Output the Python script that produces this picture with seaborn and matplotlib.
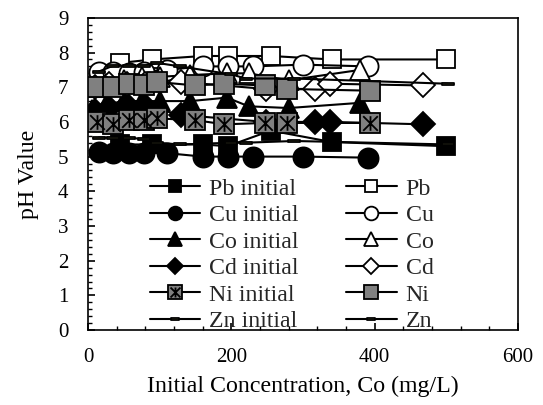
import numpy as np
import matplotlib
matplotlib.use('Agg')
import matplotlib.pyplot as plt
import seaborn as sns
from matplotlib.path import Path
from matplotlib.ticker import MultipleLocator
from matplotlib.legend_handler import HandlerTuple

# initial concentration (mg/L) for each metal
PB_X = [45, 90, 160, 195, 255, 340, 500]
CU_X = [15, 35, 57, 78, 110, 160, 195, 230, 300, 390]
CO_X = [5, 25, 50, 75, 100, 143, 194, 224, 280, 380]
CD_X = [10, 30, 55, 80, 130, 248, 317, 338, 468]
NI_X = [13, 35, 57, 78, 97, 150, 190, 247, 278, 394]
ZN_X = [15, 35, 57, 78, 97, 128, 200, 220, 288, 502]

# pH before (initial) and after sorption
PB_INIT = [5.35, 5.35, 5.35, 5.3, 5.75, 5.42, 5.3]
PB_FINAL = [7.7, 7.8, 7.9, 7.9, 7.9, 7.8, 7.8]
CU_INIT = [5.12, 5.1, 5.1, 5.1, 5.1, 5.0, 5.0, 5.0, 5.0, 4.97]
CU_FINAL = [7.45, 7.45, 7.4, 7.45, 7.5, 7.6, 7.6, 7.6, 7.65, 7.6]
CO_INIT = [6.35, 6.5, 6.6, 6.6, 6.6, 6.6, 6.7, 6.45, 6.4, 6.55]
CO_FINAL = [7.0, 7.1, 7.2, 7.3, 7.3, 7.35, 7.4, 7.4, 7.2, 7.5]
CD_INIT = [6.3, 6.4, 6.5, 6.45, 6.2, 6.0, 6.0, 6.0, 5.93]
CD_FINAL = [7.0, 7.1, 7.1, 7.1, 7.15, 6.95, 6.95, 7.1, 7.05]
NI_INIT = [6.0, 5.95, 6.05, 6.05, 6.1, 6.05, 5.93, 5.97, 5.97, 5.97]
NI_FINAL = [7.0, 7.0, 7.1, 7.05, 7.15, 7.05, 7.1, 7.05, 6.95, 6.9]
ZN_INIT = [5.55, 5.55, 5.55, 5.5, 5.4, 5.35, 5.4, 5.4, 5.45, 5.35]
ZN_FINAL = [7.45, 7.62, 7.62, 7.62, 7.7, 7.6, 7.37, 7.25, 7.25, 7.1]

X_TICKS = [0, 200, 400, 600]
Y_TICKS = list(range(0, 10))

GREY = '#808080'
KHAKI = '#A39B66'
TICK_FS = 15
LABEL_FS = 17.2

# flat bar marker used for Zn
BAR = Path([(-1, -0.18), (1, -0.18), (1, 0.18), (-1, 0.18), (-1, -0.18)],
           [Path.MOVETO, Path.LINETO, Path.LINETO, Path.LINETO, Path.CLOSEPOLY])
# excel style star: X plus vertical stroke
STAR = Path([(-1, -1), (1, 1), (-1, 1), (1, -1), (0, -1), (0, 1)],
            [Path.MOVETO, Path.LINETO, Path.MOVETO, Path.LINETO, Path.MOVETO, Path.LINETO])


def draw(ax, x, y, label, marker, face, ms=13.5):
    sns.lineplot(x=x, y=y, ax=ax, color='black', linewidth=1.5,
                 marker=marker, markersize=ms, markerfacecolor=face,
                 markeredgecolor='black', markeredgewidth=1.3, label=label,
                 legend=False)
    return ax.lines[-1]


def main():
    sns.set_theme(style='white')
    plt.rcParams['font.family'] = ['Liberation Serif', 'DejaVu Serif']

    fig = plt.figure(figsize=(5.43, 4.05), dpi=100)
    ax = fig.add_axes([0.162, 0.185, 0.792, 0.771])

    h_init, h_final = [], []
    h_init.append(draw(ax, PB_X, PB_INIT, 'Pb initial', 's', 'black'))
    h_final.append(draw(ax, PB_X, PB_FINAL, 'Pb', 's', 'white'))
    h_init.append(draw(ax, CU_X, CU_INIT, 'Cu initial', 'o', 'black', 14.5))
    h_final.append(draw(ax, CU_X, CU_FINAL, 'Cu', 'o', 'white', 14.5))
    h_init.append(draw(ax, CO_X, CO_INIT, 'Co initial', '^', 'black', 14))
    h_final.append(draw(ax, CO_X, CO_FINAL, 'Co', '^', 'white', 14))
    h_init.append(draw(ax, CD_X, CD_INIT, 'Cd initial', 'D', 'black', 12))
    h_final.append(draw(ax, CD_X, CD_FINAL, 'Cd', 'D', 'white', 12))

    sq = draw(ax, NI_X, NI_INIT, 'Ni initial', 's', GREY, 14)
    ax.plot(NI_X, NI_INIT, linestyle='none', marker=STAR, markersize=10.5,
            markerfacecolor='none', markeredgecolor='black', markeredgewidth=1.3)
    st = ax.lines[-1]
    h_init.append((sq, st))
    h_final.append(draw(ax, NI_X, NI_FINAL, 'Ni', 's', GREY, 14))

    h_init.append(draw(ax, ZN_X, ZN_INIT, 'Zn initial', BAR, KHAKI, 8))
    h_final.append(draw(ax, ZN_X, ZN_FINAL, 'Zn', BAR, KHAKI, 8))

    labels = ['Pb initial', 'Cu initial', 'Co initial', 'Cd initial', 'Ni initial', 'Zn initial',
              'Pb', 'Cu', 'Co', 'Cd', 'Ni', 'Zn']
    ax.legend(h_init + h_final, labels, ncol=2, frameon=False,
              loc='upper left', bbox_to_anchor=(0.144, 0.487),
              fontsize=LABEL_FS, markerscale=0.68, handlelength=2.1,
              handletextpad=0.38, columnspacing=2.0, labelspacing=0.2,
              borderpad=0, borderaxespad=0,
              handler_map={tuple: HandlerTuple(ndivide=1, pad=0)})

    ax.set_xlim(0, 600)
    ax.set_ylim(0, 9)
    ax.set_xticks(X_TICKS)
    ax.set_yticks(Y_TICKS)
    ax.xaxis.set_minor_locator(MultipleLocator(40))
    ax.yaxis.set_minor_locator(MultipleLocator(0.2))
    ax.tick_params(which='both', direction='in', bottom=True, left=True,
                   top=False, right=False, colors='black', labelsize=TICK_FS)
    ax.tick_params(which='major', length=5, width=1.2)
    ax.tick_params(which='minor', length=3, width=1.0)
    ax.tick_params(axis='y', which='major', pad=14)
    ax.tick_params(axis='x', which='major', pad=13)
    for s in ax.spines.values():
        s.set_color('black')
        s.set_linewidth(1.2)

    ax.set_xlabel('Initial Concentration, Co (mg/L)', fontsize=LABEL_FS, color='black', labelpad=6)
    ax.set_ylabel('pH Value', fontsize=LABEL_FS, color='black', labelpad=14)

    fig.savefig('out.png', dpi=100)
    plt.close(fig)


if __name__ == '__main__':
    main()
